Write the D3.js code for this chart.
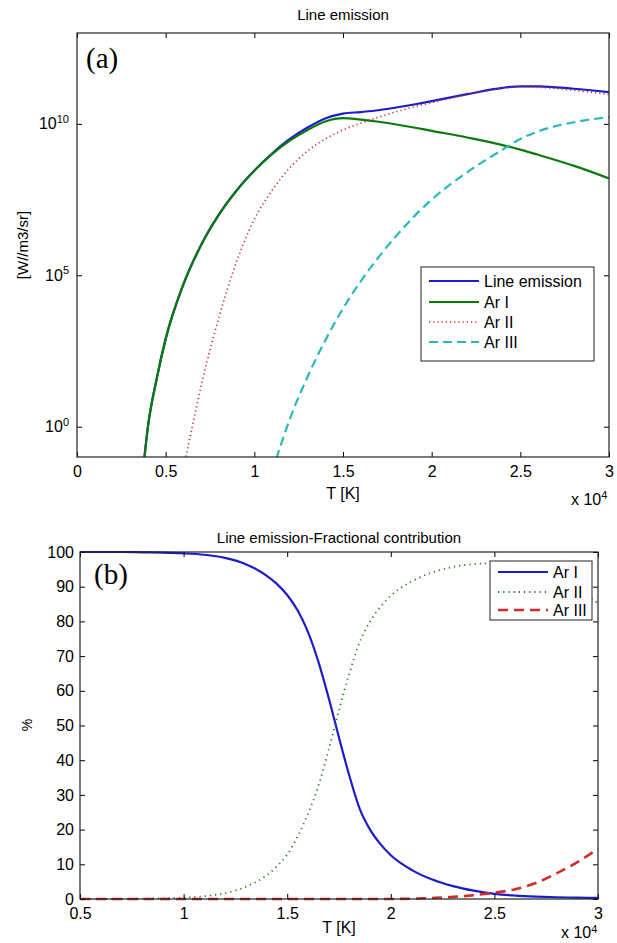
<!DOCTYPE html>
<html lang="en">
<head>
<meta charset="UTF-8">
<title>Line emission</title>
<style>
  body { margin: 0; background: #fff; }
  text { font-family: "Liberation Sans", Arial, sans-serif; fill: #000; }
</style>
</head>
<body>
<div id="container"></div>
<script src="https://d3js.org/d3.v7.min.js"></script>
<script>
// (a) temperature in units of 1e4 K, emission given as log10 of [W/m3/sr]
var lineT   = [0.375, 0.4, 0.45, 0.5, 0.6, 0.7, 0.8, 0.9, 1.0, 1.1, 1.2, 1.3, 1.4, 1.5, 1.6, 1.7, 1.8, 1.9, 2.0, 2.2, 2.4, 2.5, 2.6, 2.8, 3.0];
var lineLog = [-1.3, 0, 1.6, 2.9, 4.7, 6.0, 7.0, 7.8, 8.46, 9.02, 9.5, 9.88, 10.18, 10.34, 10.39, 10.45, 10.54, 10.64, 10.75, 10.98, 11.19, 11.24, 11.24, 11.16, 11.05];
var arIT    = [0.375, 0.4, 0.45, 0.5, 0.6, 0.7, 0.8, 0.9, 1.0, 1.1, 1.2, 1.3, 1.4, 1.5, 1.6, 1.7, 1.8, 1.9, 2.0, 2.2, 2.4, 2.5, 2.6, 2.8, 3.0];
var arILog  = [-1.3, 0, 1.6, 2.9, 4.7, 6.0, 7.0, 7.8, 8.45, 9.0, 9.45, 9.8, 10.08, 10.19, 10.14, 10.07, 9.98, 9.88, 9.77, 9.55, 9.3, 9.15, 8.98, 8.62, 8.2];
var arIIT   = [0.6, 0.65, 0.7, 0.8, 0.9, 1.0, 1.1, 1.2, 1.3, 1.4, 1.5, 1.6, 1.7, 1.8, 1.9, 2.0, 2.2, 2.4, 2.5, 2.6, 2.8, 3.0];
var arIILog = [-1.4, 0, 1.35, 3.6, 5.45, 6.85, 7.8, 8.55, 9.1, 9.5, 9.8, 10.02, 10.22, 10.4, 10.56, 10.7, 10.96, 11.17, 11.22, 11.21, 11.11, 10.97];
var arIIIT  = [1.1, 1.2, 1.3, 1.4, 1.5, 1.6, 1.8, 2.0, 2.2, 2.4, 2.5, 2.6, 2.8, 3.0];
var arIIILog = [-1.5, 0.25, 1.65, 2.85, 3.9, 4.8, 6.3, 7.5, 8.4, 9.15, 9.5, 9.75, 10.05, 10.22];

var xTicksTop  = [0, 0.5, 1, 1.5, 2, 2.5, 3];
var xLabelsTop = ["0", "0.5", "1", "1.5", "2", "2.5", "3"];
var yTicksTop  = [1e0, 1e5, 1e10];
var yExpTop    = ["0", "5", "10"];

// (b) fractional contribution in %
var fracT   = [0.5, 0.6, 0.7, 0.8, 0.9, 1.0, 1.1, 1.2, 1.3, 1.4, 1.45, 1.5, 1.55, 1.6, 1.65, 1.7, 1.75, 1.8, 1.85, 1.9, 1.95, 2.0, 2.1, 2.2, 2.3, 2.4, 2.5, 2.6, 2.7, 2.8, 2.9, 3.0];
var fracI   = [100, 100, 100, 99.9, 99.8, 99.6, 99.2, 98.3, 96.5, 93.2, 90.8, 87.6, 83.2, 77, 68.5, 58, 46.5, 35.5, 26, 20, 15.8, 12.6, 8.4, 5.6, 3.7, 2.4, 1.5, 1.0, 0.7, 0.5, 0.4, 0.3];
var fracII  = [0, 0, 0, 0.1, 0.2, 0.4, 0.8, 1.7, 3.5, 6.8, 9.4, 12.8, 18, 24.5, 32.5, 43, 54.5, 65, 74, 80, 84.2, 87.4, 91.5, 94.1, 95.7, 96.5, 96.8, 96.3, 94.8, 92.1, 89, 85.2];
var fracIII = [0, 0, 0, 0, 0, 0, 0, 0, 0, 0, 0, 0, 0, 0, 0, 0, 0, 0, 0, 0, 0, 0, 0.1, 0.3, 0.6, 1.1, 1.8, 2.8, 4.6, 7.4, 10.6, 14.5];

var xTicksBot  = [0.5, 1, 1.5, 2, 2.5, 3];
var xLabelsBot = ["0.5", "1", "1.5", "2", "2.5", "3"];
var yTicksBot  = [0, 10, 20, 30, 40, 50, 60, 70, 80, 90, 100];

var svg = d3.select("#container")
    .append("svg")
    .attr("width", 617)
    .attr("height", 943);

// style the tick labels d3 draws
function styleAxis(g) {
    g.attr("font-size", 16).attr("font-family", "Liberation Sans, Arial, sans-serif");
    g.select(".domain").remove();
    g.selectAll(".tick line").attr("stroke", "#000");
}

// frame plus inward ticks on all four sides; returns the left axis group
function drawAxes(g, w, h, x, y, xTicks, xLabels, yTicks, yFormat, yPad) {
    g.append("g")
        .attr("transform", "translate(0," + h + ")")
        .call(d3.axisBottom(x).tickValues(xTicks).tickSize(-5).tickPadding(9)
            .tickFormat(function(d, i) { return xLabels[i]; }))
        .call(styleAxis);
    g.append("g")
        .call(d3.axisTop(x).tickValues(xTicks).tickSize(-5).tickFormat(""))
        .call(styleAxis);
    var left = g.append("g")
        .call(d3.axisLeft(y).tickValues(yTicks).tickSize(-5).tickPadding(yPad).tickFormat(yFormat))
        .call(styleAxis);
    g.append("g")
        .attr("transform", "translate(" + w + ",0)")
        .call(d3.axisRight(y).tickValues(yTicks).tickSize(-5).tickFormat(""))
        .call(styleAxis);
    g.append("rect")
        .attr("width", w)
        .attr("height", h)
        .attr("fill", "none")
        .attr("stroke", "#222")
        .attr("stroke-width", 1.2);
    return left;
}

function addLegend(x, y, w, h, rowYs, items) {
    var lg = svg.append("g");
    lg.append("rect")
        .attr("x", x).attr("y", y)
        .attr("width", w).attr("height", h)
        .attr("fill", "#fff")
        .attr("stroke", "#222");
    items.forEach(function(it, i) {
        lg.append("line")
            .attr("x1", x + 8).attr("x2", x + 58)
            .attr("y1", rowYs[i]).attr("y2", rowYs[i])
            .attr("stroke", it.color)
            .attr("stroke-width", it.width)
            .attr("stroke-dasharray", it.dash);
        lg.append("text")
            .attr("x", x + 63)
            .attr("y", rowYs[i])
            .attr("dy", "0.36em")
            .attr("font-size", 16)
            .text(it.name);
    });
}

// ---------------- (a) Line emission ----------------
var tw = 532, th = 424;
var xTop = d3.scaleLinear().domain([0, 3]).range([0, tw]);
var yTop = d3.scaleLog().domain([1e-1, 1e13]).range([th, 0]);

var gTop = svg.append("g").attr("transform", "translate(77,33)");

gTop.append("clipPath").attr("id", "clipTop")
    .append("rect").attr("width", tw).attr("height", th);

var lineTop = d3.line()
    .x(function(d) { return xTop(d[0]); })
    .y(function(d) { return yTop(Math.pow(10, d[1])); })
    .curve(d3.curveMonotoneX);

var topSeries = [
    { name: "Line emission", t: lineT, v: lineLog, color: "#1c1cc8", width: 2.2, dash: null },
    { name: "Ar I", t: arIT, v: arILog, color: "#0b7a0b", width: 2.2, dash: null },
    { name: "Ar II", t: arIIT, v: arIILog, color: "#c03535", width: 1.7, dash: "1.2,3" },
    { name: "Ar III", t: arIIIT, v: arIIILog, color: "#2cb8b8", width: 2.2, dash: "9,5" }
];

var topLines = gTop.append("g").attr("clip-path", "url(#clipTop)");
topSeries.forEach(function(s) {
    topLines.append("path")
        .attr("d", lineTop(d3.zip(s.t, s.v)))
        .attr("fill", "none")
        .attr("stroke", s.color)
        .attr("stroke-width", s.width)
        .attr("stroke-dasharray", s.dash);
});

var leftTop = drawAxes(gTop, tw, th, xTop, yTop, xTicksTop, xLabelsTop, yTicksTop, function() { return "10"; }, 8);

// 10^n labels: add the exponent as a superscript
leftTop.selectAll(".tick text")
    .each(function(d) {
        d3.select(this).append("tspan")
            .attr("dy", "-0.62em")
            .attr("font-size", 11)
            .text(yExpTop[yTicksTop.indexOf(d)]);
    });

svg.append("text")
    .attr("x", 343).attr("y", 20)
    .attr("text-anchor", "middle")
    .attr("font-size", 15)
    .text("Line emission");

svg.append("text")
    .attr("x", 343).attr("y", 499)
    .attr("text-anchor", "middle")
    .attr("font-size", 16)
    .text("T [K]");

var mulTop = svg.append("text")
    .attr("x", 571).attr("y", 505)
    .attr("font-size", 16)
    .text("x 10");
mulTop.append("tspan").attr("dy", "-0.55em").attr("font-size", 11).text("4");

svg.append("text")
    .attr("transform", "translate(28,245) rotate(-90)")
    .attr("text-anchor", "middle")
    .attr("font-size", 15)
    .text("[W//m3/sr]");

svg.append("text")
    .attr("x", 86).attr("y", 68)
    .style("font-family", "Liberation Serif, serif")
    .attr("font-size", 29)
    .text("(a)");

addLegend(421, 267, 173, 94, [281, 302, 322, 342], topSeries);

// ---------------- (b) Fractional contribution ----------------
var bw = 518, bh = 347;
var xBot = d3.scaleLinear().domain([0.5, 3]).range([0, bw]);
var yBot = d3.scaleLinear().domain([0, 100]).range([bh, 0]);

var gBot = svg.append("g").attr("transform", "translate(80,552)");

gBot.append("clipPath").attr("id", "clipBot")
    .append("rect").attr("x", -2).attr("y", -2).attr("width", bw + 2).attr("height", bh + 4);

var lineBot = d3.line()
    .x(function(d) { return xBot(d[0]); })
    .y(function(d) { return yBot(d[1]); })
    .curve(d3.curveMonotoneX);

var botSeries = [
    { name: "Ar I", v: fracI, color: "#1c1cc8", width: 2.2, dash: null },
    { name: "Ar II", v: fracII, color: "#1f7f1f", width: 1.8, dash: "1.2,4" },
    { name: "Ar III", v: fracIII, color: "#d42a2a", width: 2.6, dash: "10,6" }
];

var botLines = gBot.append("g").attr("clip-path", "url(#clipBot)");
botSeries.forEach(function(s) {
    botLines.append("path")
        .attr("d", lineBot(d3.zip(fracT, s.v)))
        .attr("fill", "none")
        .attr("stroke", s.color)
        .attr("stroke-width", s.width)
        .attr("stroke-dasharray", s.dash);
});

drawAxes(gBot, bw, bh, xBot, yBot, xTicksBot, xLabelsBot, yTicksBot, d3.format("d"), 6);

svg.append("text")
    .attr("x", 339).attr("y", 543)
    .attr("text-anchor", "middle")
    .attr("font-size", 15)
    .text("Line emission-Fractional contribution");

svg.append("text")
    .attr("x", 339).attr("y", 933)
    .attr("text-anchor", "middle")
    .attr("font-size", 16)
    .text("T [K]");

var mulBot = svg.append("text")
    .attr("x", 561).attr("y", 938)
    .attr("font-size", 16)
    .text("x 10");
mulBot.append("tspan").attr("dy", "-0.5em").attr("font-size", 11).text("4");

svg.append("text")
    .attr("transform", "translate(32,725) rotate(-90)")
    .attr("text-anchor", "middle")
    .attr("font-size", 14)
    .text("%");

svg.append("text")
    .attr("x", 94).attr("y", 584)
    .style("font-family", "Liberation Serif, serif")
    .attr("font-size", 29)
    .text("(b)");

addLegend(490, 561, 102, 59, [572, 592, 610], botSeries);
</script>
</body>
</html>
